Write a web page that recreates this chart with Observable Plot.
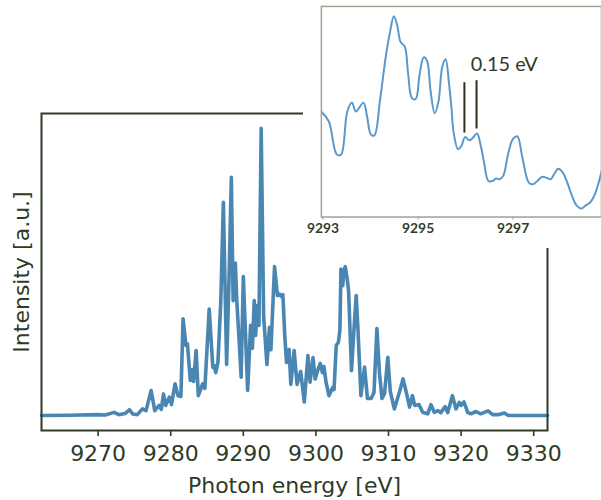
<!DOCTYPE html>
<html>
<head>
<meta charset="utf-8">
<script src="https://cdn.jsdelivr.net/npm/d3@7"></script>
<script src="https://cdn.jsdelivr.net/npm/@observablehq/plot@0.6"></script>
<style>
  html, body { margin: 0; padding: 0; background: #fff; overflow: hidden; }
  #wrap { position: relative; width: 601px; height: 500px; overflow: hidden; }
  #main, #inset { position: absolute; top: 0; }
  #main { left: 0; }
  #inset { left: 303px; }
</style>
</head>
<body>
<div id="wrap"><div id="main"></div><div id="inset"></div></div>
<script>
// ---- main spectrum ----
const mainEnergy = [9262.2, 9266, 9270, 9271.0, 9272.2, 9272.85, 9273.7, 9274.3, 9274.8, 9275.4, 9276.1, 9276.6, 9277.3, 9277.8, 9278.4, 9278.7, 9279.0, 9279.3, 9279.8, 9280.1, 9280.6, 9281.0, 9281.4, 9281.7, 9282.1, 9282.3, 9282.7, 9283.0, 9283.15, 9283.5, 9283.8, 9284.4, 9284.7, 9285.3, 9285.8, 9286.0, 9286.2, 9286.5, 9286.9, 9287.25, 9287.7, 9288.0, 9288.35, 9288.6, 9288.9, 9289.1, 9289.5, 9289.7, 9290.0, 9290.6, 9291.0, 9291.25, 9291.5, 9291.7, 9291.9, 9292.15, 9292.46, 9292.8, 9293.25, 9293.6, 9293.8, 9294.3, 9294.7, 9294.95, 9295.25, 9295.45, 9295.7, 9295.95, 9296.3, 9296.55, 9297.0, 9297.4, 9297.9, 9298.4, 9298.9, 9299.2, 9299.6, 9299.9, 9300.2, 9300.6, 9300.9, 9301.1, 9301.4, 9301.8, 9302.3, 9302.5, 9302.8, 9303.1, 9303.3, 9303.45, 9303.7, 9303.85, 9304.05, 9304.3, 9304.5, 9304.9, 9305.3, 9305.55, 9305.8, 9306.2, 9306.7, 9307.1, 9307.6, 9308.0, 9308.4, 9308.75, 9309.1, 9309.45, 9309.9, 9310.25, 9310.8, 9311.5, 9312.0, 9312.5, 9312.9, 9313.3, 9313.6, 9314.2, 9314.7, 9315.4, 9315.85, 9316.3, 9316.8, 9317.2, 9317.8, 9318.15, 9318.8, 9319.3, 9319.75, 9320.0, 9320.4, 9320.9, 9321.35, 9322.05, 9322.7, 9323.7, 9324.35, 9325.1, 9325.95, 9326.5, 9331.9];
const mainIntensity = [0, 0.1, 0.3, 0.2, 1.1, 0.3, 0.7, 2.0, 0.5, 0.3, 2.3, 1.7, 8.7, 1.7, 3.5, 2.1, 7.5, 3.5, 6.4, 3.8, 11.0, 6.9, 6.6, 33.6, 24.3, 24.9, 12.2, 16.0, 11.8, 22.6, 6.9, 11.0, 9.4, 37.0, 16.7, 17.4, 14.9, 18.4, 39.9, 74.1, 17.7, 44.3, 82.7, 39.9, 53.0, 39.9, 22.6, 13.3, 48.3, 8.7, 31.3, 23.4, 39.9, 27.8, 38.2, 31.3, 99.8, 34.4, 17.7, 30.6, 22.9, 51.7, 41.7, 42.2, 41.3, 42.0, 28.1, 18.4, 22.9, 10.8, 22.6, 10.8, 15.3, 4.7, 20.8, 11.6, 20.1, 12.7, 15.3, 18.1, 14.9, 17.0, 11.5, 6.9, 9.7, 9.0, 24.3, 25.5, 29.5, 50.9, 45.1, 50.3, 51.7, 47.6, 43.4, 15.6, 32.3, 41.7, 29.5, 6.9, 16.8, 5.9, 5.9, 8.0, 30.2, 14.9, 5.9, 7.6, 20.2, 8.3, 2.3, 8.1, 12.7, 7.5, 2.9, 6.9, 3.5, 3.8, 1.1, 0.6, 3.8, 1.1, 1.7, 1.0, 3.1, 1.0, 6.9, 2.3, 4.6, 3.5, 4.7, 1.1, 0.6, 1.4, 0.6, 1.6, 0.3, 0.3, 0.9, 0, 0];
const mainTicks = [9270, 9280, 9290, 9300, 9310, 9320, 9330];
const mainXDomain = [9262.2, 9331.9];
const mainYDomain = [-5.2, 104.9];
const xLabel = "Photon energy [eV]";
const yLabel = "Intensity [a.u.]";

// ---- inset (zoomed spectrum) ----
const insetEnergy = [9292.96, 9293.12, 9293.29, 9293.38, 9293.51, 9293.61, 9293.69, 9293.85, 9293.92, 9294.01, 9294.08, 9294.2, 9294.32, 9294.41, 9294.49, 9294.56, 9294.63, 9294.72, 9294.79, 9294.87, 9294.95, 9295.03, 9295.12, 9295.19, 9295.26, 9295.35, 9295.43, 9295.51, 9295.58, 9295.65, 9295.70, 9295.75, 9295.84, 9295.91, 9295.99, 9296.08, 9296.15, 9296.24, 9296.32, 9296.39, 9296.48, 9296.57, 9296.64, 9296.71, 9296.79, 9296.90, 9297.00, 9297.09, 9297.19, 9297.33, 9297.42, 9297.51, 9297.61, 9297.70, 9297.79, 9297.86, 9297.95, 9298.05, 9298.14, 9298.24, 9298.34, 9298.44, 9298.52, 9298.62, 9298.69, 9298.76, 9298.82, 9298.88];
const insetIntensity = [28.5, 26.1, 17.9, 17.9, 28.5, 30.7, 28.5, 30.7, 27.7, 22.8, 22.6, 31.4, 42.0, 48.1, 52.0, 49.8, 45.7, 44.5, 37.9, 31.8, 31.6, 37.5, 41.9, 41.0, 33.9, 28.1, 31.0, 39.6, 41.4, 35.5, 29.8, 23.2, 19.2, 20.0, 22.2, 21.4, 22.0, 23.1, 20.0, 15.9, 11.4, 11.4, 12.0, 11.8, 12.6, 18.3, 21.8, 22.4, 17.5, 11.0, 10.6, 11.4, 12.4, 12.2, 11.8, 13.0, 14.4, 13.4, 11.0, 7.7, 5.3, 4.6, 5.3, 6.1, 7.3, 9.4, 11.8, 14.7];
const insetTicks = [9293, 9295, 9297];
const insetXDomain = [9292.965, 9298.86];
const insetYDomain = [2.5, 54.4];
const markerEnergy = [9295.975, 9296.23];
const markerTop = [35.6, 36.1];
const markerBottom = [23.2, 24.2];
const markerLabel = "0.15 eV";
const markerLabelPos = {x: 9296.11, y: 40.1};

const mainData = mainEnergy.map((e, i) => ({e, v: mainIntensity[i]}));
const insetData = insetEnergy.map((e, i) => ({e, v: insetIntensity[i]}));
const markers = markerEnergy.map((e, i) => ({e, y1: markerBottom[i], y2: markerTop[i]}));

const ink = "#2d3b27";

const mainPlot = Plot.plot({
  width: 601,
  height: 500,
  marginLeft: 41,
  marginRight: 54,
  marginTop: 113,
  marginBottom: 70,
  style: {fontFamily: "DejaVu Sans", color: ink, background: "white"},
  x: {domain: mainXDomain, axis: null},
  y: {domain: mainYDomain, axis: null},
  marks: [
    Plot.line(mainData, {x: "e", y: "v", stroke: "#4a86b2", strokeWidth: 3.6, strokeLinejoin: "round"}),
    Plot.frame({stroke: ink, strokeWidth: 2}),
    Plot.axisX(mainTicks, {tickSize: 6, tickPadding: 9, fontSize: 22, fill: ink, stroke: ink, strokeWidth: 1.6, label: null, tickFormat: d => String(d)}),
    Plot.text([xLabel], {frameAnchor: "bottom", dy: 55, lineAnchor: "middle", fontSize: 22, fill: ink, text: d => d}),
    Plot.text([yLabel], {frameAnchor: "left", dx: -20, rotate: -90, textAnchor: "middle", lineAnchor: "middle", fontSize: 22, fill: ink, text: d => d})
  ]
});
document.getElementById("main").appendChild(mainPlot);

const insetPlot = Plot.plot({
  width: 300,
  height: 250,
  marginLeft: 18,
  marginRight: 0,
  marginTop: 6,
  marginBottom: 32,
  style: {fontFamily: "Lato", color: "#333d2c", background: "white"},
  x: {domain: insetXDomain, axis: null},
  y: {domain: insetYDomain, axis: null},
  marks: [
    Plot.line(insetData, {x: "e", y: "v", stroke: "#5a98cc", strokeWidth: 2, curve: "catmull-rom", clip: true}),
    Plot.ruleX(markers, {x: "e", y1: "y1", y2: "y2", stroke: "#26301f", strokeWidth: 2}),
    Plot.text([markerLabel], {x: markerLabelPos.x, y: markerLabelPos.y, text: d => d, textAnchor: "start", lineAnchor: "middle", fontSize: 20, fill: ink}),
    Plot.frame({stroke: "#9aa48f", strokeWidth: 1.5}),
    Plot.axisX(insetTicks, {tickSize: 3, tickPadding: 3, fontSize: 14, fontWeight: "bold", fill: "#333d2c", stroke: "#9aa48f", label: null, tickFormat: d => String(d)})
  ]
});
document.getElementById("inset").appendChild(insetPlot);
</script>
</body>
</html>
